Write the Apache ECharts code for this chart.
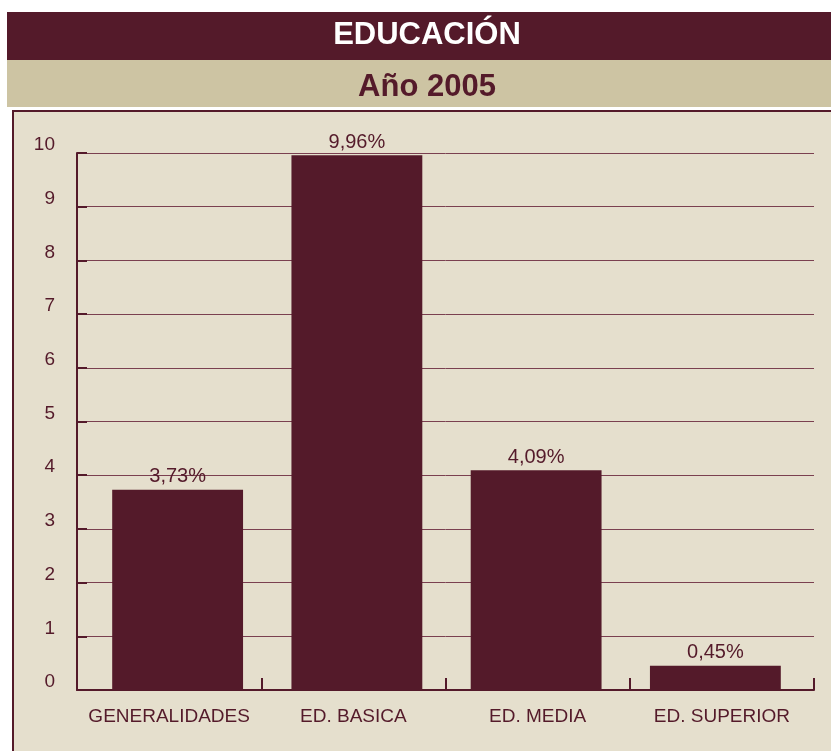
<!DOCTYPE html>
<html><head><meta charset="utf-8">
<script src="https://cdn.jsdelivr.net/npm/echarts@6/dist/echarts.min.js"></script>
<style>html,body{margin:0;padding:0;background:#fff}#c{width:831px;height:751px}</style>
</head><body><div id="c"></div>
<script>
var categories = ['GENERALIDADES', 'ED. BASICA', 'ED. MEDIA', 'ED. SUPERIOR'];
var values = [3.73, 9.96, 4.09, 0.45];
var yTicks = {min: 0, max: 10, interval: 1};
var titleText = 'EDUCACIÓN';
var subtitleText = 'Año 2005';

var MAROON = '#541a2a';
var BEIGE = '#e5dfcd';
var TAN = '#cdc4a3';
var FONT = '"Liberation Sans", Arial, sans-serif';

var chart = echarts.init(document.getElementById('c'));
chart.setOption({
  animation: false,
  backgroundColor: '#ffffff',
  graphic: [
    {type: 'rect', z: 0, shape: {x: 7, y: 12, width: 830, height: 48}, style: {fill: MAROON}},
    {type: 'rect', z: 0, shape: {x: 7, y: 60, width: 830, height: 47}, style: {fill: TAN}},
    {type: 'rect', z: 0, shape: {x: 13, y: 111, width: 830, height: 660}, style: {fill: BEIGE, stroke: MAROON, lineWidth: 2}},
    {type: 'text', z: 10, x: 427, y: 35, style: {text: titleText, fill: '#ffffff', font: 'bold 31px ' + FONT, align: 'center', verticalAlign: 'middle'}},
    {type: 'text', z: 10, x: 427, y: 87, style: {text: subtitleText, fill: MAROON, font: 'bold 31px ' + FONT, align: 'center', verticalAlign: 'middle'}}
  ],
  grid: [
    {left: 77, right: 17, top: 153, bottom: 61, show: true, borderColor: MAROON, borderWidth: 2, backgroundColor: 'transparent'},
    {left: 88, right: 26, top: 153, bottom: 61}
  ],
  xAxis: [{
    type: 'category', data: categories, gridIndex: 0,
    axisLine: {lineStyle: {color: MAROON, width: 2}},
    axisTick: {show: true, inside: true, length: 12, interval: 0, lineStyle: {color: MAROON, width: 2}},
    axisLabel: {color: MAROON, fontSize: 19, fontFamily: FONT, margin: 17, interval: 0, hideOverlap: false}
  }, {
    type: 'category', data: categories, gridIndex: 1, show: false
  }],
  yAxis: [{
    type: 'value', gridIndex: 0, min: yTicks.min, max: yTicks.max, interval: yTicks.interval,
    axisLine: {show: true, lineStyle: {color: MAROON, width: 2}},
    axisTick: {show: true, inside: true, length: 10, lineStyle: {color: MAROON, width: 2}},
    axisLabel: {color: MAROON, fontSize: 19, fontFamily: FONT, margin: 22, verticalAlign: 'bottom', lineHeight: 16},
    splitLine: {show: true, lineStyle: {color: '#7a4050', width: 1}}
  }, {
    type: 'value', gridIndex: 1, min: yTicks.min, max: yTicks.max, interval: yTicks.interval, show: false
  }],
  series: [{
    type: 'bar', xAxisIndex: 0, yAxisIndex: 0, data: []
  }, {
    type: 'bar', xAxisIndex: 1, yAxisIndex: 1, data: values, barWidth: '73%',
    itemStyle: {color: MAROON},
    label: {show: true, position: 'top', distance: 3, color: MAROON, fontSize: 20, fontFamily: FONT,
      formatter: function (p) { return p.value.toFixed(2).replace('.', ',') + '%'; }}
  }]
});
</script></body></html>
